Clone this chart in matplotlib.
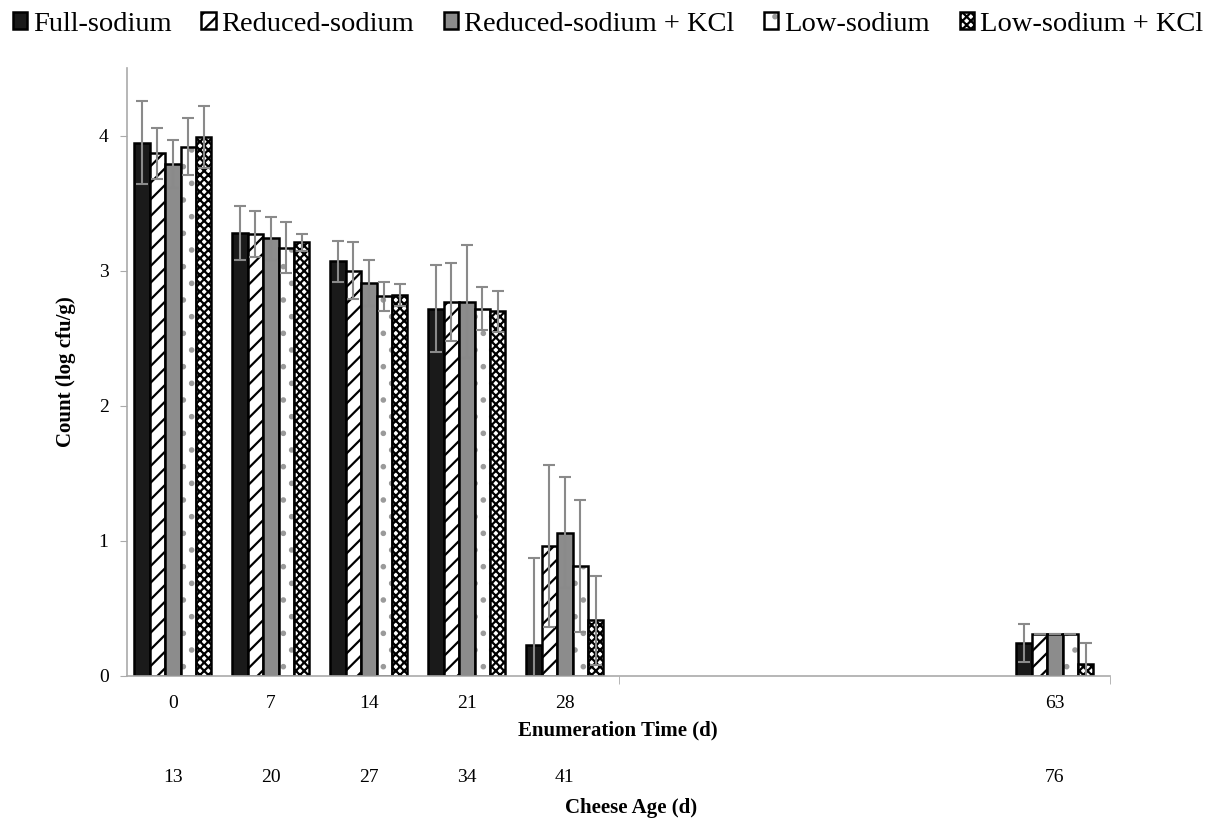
"""
Bar chart of counts (log cfu/g) by enumeration time for five cheese formulations.
"""
import matplotlib
matplotlib.use("Agg")
import matplotlib.pyplot as plt
import matplotlib.transforms as mtransforms
from matplotlib.patches import Patch
import numpy as np

plt.rcParams['font.family'] = ['Liberation Serif', 'DejaVu Serif']
plt.rcParams['hatch.linewidth'] = 1.6

# enumeration times (d) and matching cheese ages (d)
days = [0, 7, 14, 21, 28, 63]
cheese_age = [13, 20, 27, 34, 41, 76]

treatments = ["Full-sodium", "Reduced-sodium", "Reduced-sodium + KCl",
              "Low-sodium", "Low-sodium + KCl"]

full_sodium = [3.95, 3.28, 3.07, 2.72, 0.23, 0.24]
reduced_sodium = [3.87, 3.27, 3.00, 2.77, 0.96, 0.31]
reduced_kcl = [3.79, 3.24, 2.91, 2.77, 1.06, 0.31]
low_sodium = [3.92, 3.17, 2.81, 2.72, 0.81, 0.31]
low_kcl = [3.99, 3.21, 2.82, 2.70, 0.41, 0.09]

full_sodium_sd = [0.31, 0.20, 0.15, 0.32, 0.64, 0.14]
reduced_sodium_sd = [0.19, 0.17, 0.21, 0.29, 0.60, 0.0]
reduced_kcl_sd = [0.18, 0.16, 0.17, 0.42, 0.41, 0.0]
low_sodium_sd = [0.21, 0.19, 0.11, 0.16, 0.49, 0.0]
low_kcl_sd = [0.23, 0.06, 0.08, 0.15, 0.33, 0.15]

values = [full_sodium, reduced_sodium, reduced_kcl, low_sodium, low_kcl]
errors = [full_sodium_sd, reduced_sodium_sd, reduced_kcl_sd, low_sodium_sd, low_kcl_sd]

# fill colour, hatch and hatch colour for each treatment
fills = ['#1a1a1a', 'white', '#8c8c8c', 'white', 'white']
hatches = [None, '//', None, '.', 'xxxx']
hatch_cols = ['black', 'black', 'black', '#9a9a9a', 'black']

fig = plt.figure(figsize=(12.06, 8.23), dpi=100)
ax = fig.add_axes([0.105, 0.179, 0.815, 0.738])

width = 1.1
x = np.array(days, dtype=float)
for i in range(5):
    offs = (i - 2) * width
    # hatch takes the edge colour, so draw the fill+hatch first, then a black outline
    ax.bar(x + offs, values[i], width=width, color=fills[i], hatch=hatches[i],
           edgecolor=hatch_cols[i], linewidth=0, zorder=2)
    ax.bar(x + offs, values[i], width=width, fill=False,
           edgecolor='black', linewidth=1.8, zorder=2)
    ax.errorbar(x + offs, values[i], yerr=errors[i], fmt='none', ecolor='#8a8a8a',
                elinewidth=1.5, capsize=4, capthick=1.5, zorder=3)

ax.set_xlim(-3.3, 66.9)
ax.set_ylim(0, 4.5)
ax.set_yticks([0, 1, 2, 3, 4])
ax.set_xticks(days)
ax.set_xticklabels([str(d) for d in days])
ax.set_xticks([31.9, 66.9], minor=True)
ax.tick_params(axis='x', which='major', length=0, labelsize=14, pad=14)
ax.tick_params(axis='x', which='minor', length=6, color='#aaaaaa', direction='out')
ax.tick_params(axis='y', length=5, color='#aaaaaa', labelsize=14, pad=8)

for s in ['top', 'right']:
    ax.spines[s].set_visible(False)
for s in ['left', 'bottom']:
    ax.spines[s].set_color('#aaaaaa')
    ax.spines[s].set_linewidth(1.2)

ax.set_ylabel("Count (log cfu/g)", fontsize=15, fontweight='bold', labelpad=16)
ax.set_xlabel("Enumeration Time (d)", fontsize=15, fontweight='bold', labelpad=6)

# second row of x labels: cheese age
trans = mtransforms.blended_transform_factory(ax.transData, fig.transFigure)
for d, a in zip(days, cheese_age):
    ax.text(d, 1 - 777 / 823, str(a), transform=trans, ha='center', va='center',
            fontsize=14)
ax.text(0.5 * (days[0] + days[-1]) + 1.2, 1 - 808 / 823, "Cheese Age (d)",
        transform=trans, ha='center', va='center', fontsize=15, fontweight='bold')

handles = []
for i in range(5):
    handles.append((Patch(facecolor=fills[i], hatch=hatches[i], edgecolor=hatch_cols[i],
                          linewidth=0),
                    Patch(fill=False, edgecolor='black', linewidth=1.8)))
fig.legend(handles, treatments, loc='upper center', bbox_to_anchor=(0.504, 1.01),
           ncol=5, frameon=False, fontsize=20.5, handlelength=0.5, handleheight=0.5,
           handletextpad=0.2, columnspacing=1.05, borderpad=0.2)

fig.savefig("out.png", dpi=100)
